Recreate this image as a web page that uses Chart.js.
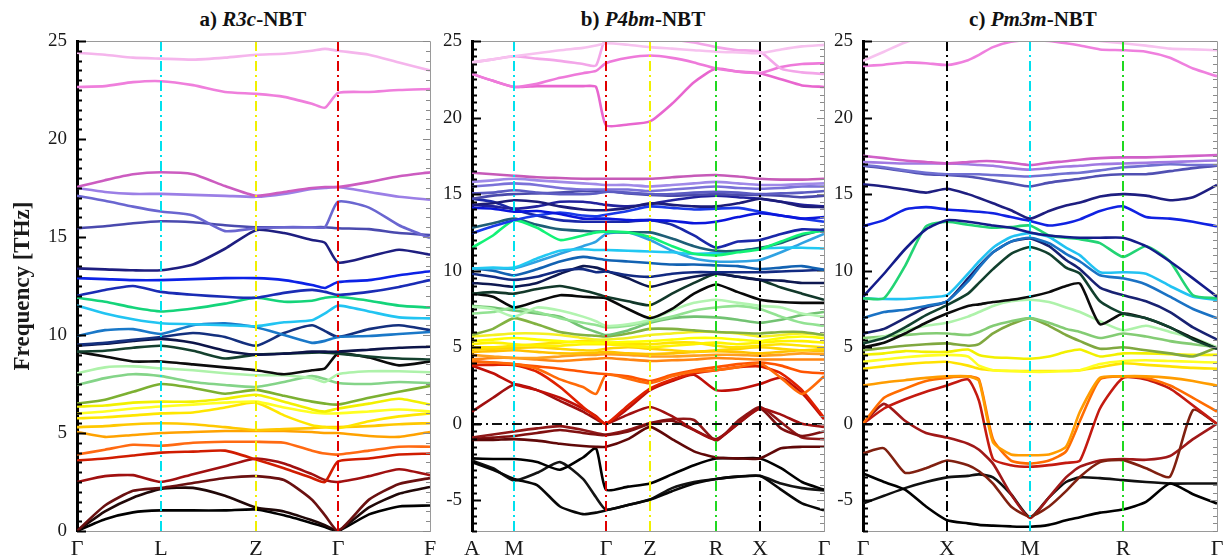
<!DOCTYPE html>
<html>
<head>
<meta charset="utf-8">
<script src="https://cdn.jsdelivr.net/npm/chart.js"></script>
<style>
  body { margin: 0; background: #fff; width: 1232px; height: 560px; position: relative; overflow: hidden; }
  canvas { position: absolute; top: 0; }
  .ttl { position: absolute; top: 7px; line-height: 24px; font: bold 21px 'Liberation Serif', 'Times New Roman', serif;
         transform: translateX(-50%); white-space: nowrap; color: #111; }
  .pre { position: absolute; left: -999px; top: 0; font-family: 'Liberation Serif'; }
</style>
</head>
<body>
<div class="ttl" style="left:253px">a) <i>R3c</i>-NBT</div>
<div class="ttl" style="left:643px">b) <i>P4bm</i>-NBT</div>
<div class="ttl" style="left:1033px">c) <i>Pm3m</i>-NBT</div>
<span class="pre">0123 Γ <b>F</b></span>
<canvas id="panelA" width="450" height="560" style="left:0px"></canvas>
<canvas id="panelB" width="412" height="560" style="left:432px"></canvas>
<canvas id="panelC" width="409" height="560" style="left:823px"></canvas>
<script>
// ---- panel a) R3c ----
const kposA = [0, 84, 179, 261, 353];
const klabelsA = ['Γ', 'L', 'Z', 'Γ', 'F'];
const xsA = [0, 28, 56, 84, 116, 148, 179, 207, 235, 248, 261, 292, 322, 353];
const bandsA = [
  [24.4, 24.3, 24.15, 24.1, 24.05, 24.15, 24.3, 24.35, 24.5, 24.6, 24.5, 24.3, 23.9, 23.5],
  [22.65, 22.7, 22.9, 22.95, 22.75, 22.4, 22.3, 22.15, 21.8, 21.6, 22.35, 22.4, 22.5, 22.55],
  [17.55, 17.9, 18.2, 18.3, 18.2, 17.6, 17.1, 17.3, 17.5, 17.55, 17.55, 17.8, 18.1, 18.3],
  [17.5, 17.3, 17.2, 17.2, 17.15, 17.1, 17.05, 17.2, 17.45, 17.5, 17.55, 17.3, 17.05, 16.9],
  [17.1, 16.85, 16.55, 16.3, 16.1, 15.3, 15.45, 15.5, 15.5, 15.5, 16.8, 16.5, 15.6, 14.95],
  [15.45, 15.55, 15.7, 15.8, 15.75, 15.6, 15.5, 15.5, 15.5, 15.5, 15.45, 15.4, 15.2, 15.1],
  [13.4, 13.35, 13.3, 13.3, 13.6, 14.4, 15.35, 15.2, 14.85, 14.7, 13.7, 14.0, 14.35, 14.1],
  [12.9, 12.85, 12.8, 12.8, 12.85, 12.9, 12.9, 12.8, 12.55, 12.4, 12.7, 12.8, 13.05, 13.25],
  [12.0, 12.3, 12.5, 12.2, 12.05, 11.95, 11.9, 12.15, 12.3, 12.2, 12.05, 12.2, 12.45, 12.8],
  [11.9, 11.7, 11.4, 11.2, 11.35, 11.6, 11.9, 11.7, 11.75, 11.9, 11.95, 11.75, 11.5, 11.4],
  [11.5, 11.1, 10.8, 10.6, 10.55, 10.5, 10.45, 10.65, 10.75, 11.1, 11.5, 11.2, 10.9, 10.85],
  [9.95, 10.25, 10.3, 10.05, 10.5, 10.6, 10.4, 10.0, 9.6, 9.7, 9.9, 9.95, 10.05, 10.15],
  [9.5, 9.6, 9.75, 9.9, 10.1, 9.9, 9.45, 10.1, 10.5, 10.2, 9.9, 10.3, 10.5, 10.25],
  [9.45, 9.55, 9.7, 9.8, 9.6, 9.2, 9.0, 9.05, 9.15, 9.15, 9.15, 9.25, 9.35, 9.4],
  [9.15, 9.2, 9.35, 9.45, 9.2, 8.8, 9.0, 9.05, 9.1, 9.1, 9.05, 8.9, 8.8, 8.75],
  [9.15, 8.9, 8.65, 8.65, 8.5, 8.35, 8.2, 8.0, 8.2, 8.3, 9.05, 8.85, 8.45, 8.65],
  [8.05, 8.35, 8.4, 8.3, 8.2, 8.05, 7.95, 7.95, 7.8, 7.6, 8.0, 8.15, 8.15, 8.1],
  [7.45, 7.8, 8.0, 7.9, 7.6, 7.45, 7.35, 7.6, 7.9, 7.75, 7.55, 7.5, 7.6, 7.55],
  [6.5, 6.7, 7.1, 7.5, 7.3, 7.0, 7.2, 6.9, 6.6, 6.5, 6.45, 6.8, 7.1, 7.4],
  [6.35, 6.4, 6.55, 6.6, 6.6, 6.75, 6.95, 6.6, 6.2, 6.1, 6.25, 6.5, 6.75, 6.45],
  [6.0, 6.1, 6.25, 6.35, 6.45, 6.55, 6.6, 6.3, 6.05, 6.0, 6.0, 6.1, 6.2, 6.1],
  [5.75, 5.8, 5.9, 6.0, 6.05, 6.3, 6.55, 5.9, 5.4, 5.3, 5.25, 5.6, 5.85, 6.0],
  [5.3, 5.35, 5.45, 5.5, 5.45, 5.3, 5.15, 5.2, 5.25, 5.3, 5.3, 5.35, 5.45, 5.5],
  [5.05, 4.8, 4.9, 5.0, 5.05, 5.1, 5.1, 5.1, 5.05, 5.0, 5.0, 4.85, 4.8, 5.05],
  [3.9, 4.15, 4.4, 4.35, 4.5, 4.55, 4.55, 4.5, 4.1, 3.95, 3.9, 4.1, 4.3, 4.3],
  [3.6, 3.7, 3.85, 4.0, 4.05, 4.1, 3.65, 3.2, 2.7, 2.5, 3.55, 3.7, 3.9, 3.95],
  [2.5, 2.8, 2.85, 2.5, 2.9, 3.3, 3.7, 3.45, 2.9, 2.6, 2.5, 2.8, 3.15, 2.85],
  [0, 1.3, 2.05, 2.2, 2.45, 2.7, 2.8, 2.6, 1.6, 0.8, 0, 1.6, 2.4, 2.7],
  [0, 1.0, 1.7, 2.15, 2.2, 1.8, 1.2, 1.0, 0.55, 0.3, 0, 1.2, 1.9, 2.25],
  [0, 0.6, 0.95, 1.05, 1.05, 1.05, 1.1, 0.8, 0.4, 0.2, 0, 0.85, 1.25, 1.3]
];

// ---- panel b) P4bm ----
const kposB = [0, 42, 134, 178, 244, 288, 352];
const klabelsB = ['A', 'M', 'Γ', 'Z', 'R', 'X', 'Γ'];
const xsB = [0, 21, 42, 65, 88, 111, 124, 134, 156, 178, 200, 222, 244, 266, 288, 309, 330, 352];
const bandsB = [
  [23.6, 23.8, 24.0, 24.2, 24.4, 24.55, 24.7, 24.85, 24.75, 24.6, 24.5, 24.4, 24.3, 24.25, 24.2, 24.45, 24.65, 24.75],
  [23.6, 23.8, 24.0, 23.85, 23.7, 23.5, 23.4, 25.2, 25.3, 25.3, 25.1, 24.9, 24.6, 24.4, 24.3, 23.2, 22.95, 22.85],
  [22.85, 22.4, 22.0, 22.2, 22.6, 22.9, 23.05, 23.55, 23.9, 24.05, 23.9, 23.6, 23.2, 23.0, 22.9, 23.3, 23.5, 23.55],
  [22.85, 22.4, 22.0, 22.05, 22.05, 22.05, 22.0, 19.5, 19.55, 19.75, 20.9, 22.3, 23.2, 23.0, 22.9, 22.5, 22.1, 22.0],
  [16.4, 16.3, 16.2, 16.1, 16.05, 16.0, 16.0, 16.0, 16.0, 16.0, 16.1, 16.2, 16.25, 16.15, 16.0, 15.95, 15.95, 16.0],
  [15.8, 15.9, 16.0, 15.9, 15.8, 15.7, 15.65, 15.6, 15.6, 15.5, 15.6, 15.7, 15.8, 15.7, 15.6, 15.6, 15.65, 15.7],
  [15.5, 15.6, 15.7, 15.6, 15.4, 15.3, 15.3, 15.3, 15.3, 15.2, 15.3, 15.4, 15.5, 15.4, 15.35, 15.4, 15.5, 15.5],
  [15.05, 15.1, 15.25, 15.1, 15.0, 15.0, 15.05, 15.15, 15.1, 15.0, 15.0, 15.1, 15.15, 15.1, 15.0, 15.05, 15.1, 15.2],
  [14.7, 14.9, 15.0, 15.05, 15.1, 15.2, 15.2, 15.2, 15.05, 14.95, 14.9, 14.95, 15.0, 14.95, 14.95, 14.9, 14.8, 14.9],
  [14.3, 14.4, 14.6, 14.5, 14.2, 14.0, 13.95, 13.95, 14.1, 14.4, 14.3, 14.2, 14.2, 14.4, 14.7, 14.5, 14.2, 14.15],
  [14.3, 14.2, 14.05, 14.2, 14.5, 14.5, 14.4, 14.3, 14.2, 14.35, 14.6, 14.8, 14.9, 14.8, 14.7, 14.5, 14.3, 14.2],
  [14.1, 14.05, 13.85, 13.9, 13.7, 13.4, 13.4, 13.4, 13.3, 13.3, 13.25, 13.1, 13.2, 13.5, 13.75, 13.6, 13.4, 13.5],
  [12.45, 12.9, 13.3, 13.6, 13.8, 13.6, 13.55, 13.65, 13.9, 14.2, 14.1, 14.0, 14.05, 14.1, 13.85, 13.6, 13.4, 13.2],
  [14.7, 14.5, 14.0, 13.6, 13.3, 13.2, 13.2, 13.2, 13.2, 13.3, 13.0, 12.3, 11.5, 11.9, 12.0, 12.4, 12.7, 12.65],
  [11.5, 12.3, 13.3, 12.8, 12.0, 12.3, 12.5, 12.55, 12.5, 12.2, 11.6, 11.1, 11.0, 11.2, 11.4, 11.9, 12.4, 12.6],
  [12.8, 13.1, 13.4, 13.0, 12.7, 12.6, 12.55, 12.55, 12.5, 12.5, 12.1, 11.6, 11.3, 11.3, 11.5, 11.8, 12.3, 12.7],
  [10.15, 10.2, 10.2, 10.8, 11.3, 11.4, 11.35, 11.35, 11.3, 11.25, 11.2, 11.1, 11.15, 11.3, 11.45, 11.5, 11.5, 11.45],
  [10.15, 10.15, 10.15, 10.6, 11.1, 11.6, 11.9, 12.4, 12.5, 12.0, 11.3, 10.8, 10.6, 10.6, 10.7, 11.2, 11.8, 12.4],
  [10.15, 10.0, 9.7, 10.1, 10.6, 10.9, 10.8, 10.7, 10.6, 10.5, 10.4, 10.4, 10.35, 10.3, 10.1, 10.2, 10.3, 10.05],
  [9.8, 9.6, 9.4, 9.6, 10.0, 10.1, 9.9, 9.95, 9.7, 9.6, 9.8, 9.9, 9.9, 9.9, 9.9, 9.95, 10.0, 10.05],
  [9.2, 9.1, 8.95, 9.2, 9.8, 10.3, 10.2, 10.0, 9.5, 8.95, 9.3, 9.6, 9.8, 9.6, 9.4, 9.35, 9.2, 9.2],
  [8.5, 8.6, 8.5, 8.8, 9.0, 8.7, 8.5, 8.3, 8.0, 7.75, 8.5, 9.2, 9.8, 9.6, 9.4, 8.9, 8.5, 8.1],
  [8.5, 8.3, 7.6, 8.0, 8.4, 8.3, 8.25, 8.2, 7.5, 6.9, 7.5, 8.5, 9.1, 8.6, 8.1, 7.95, 7.9, 7.9],
  [7.65, 7.5, 7.0, 7.6, 7.4, 7.0, 6.7, 6.4, 6.5, 6.8, 7.4, 7.9, 8.1, 7.9, 7.7, 7.6, 7.2, 7.0],
  [7.2, 7.3, 7.6, 7.3, 6.9, 6.6, 6.45, 6.3, 6.4, 6.7, 7.0, 7.4, 7.6, 7.7, 7.5, 7.0, 6.6, 6.4],
  [7.7, 7.6, 7.4, 7.2, 7.0, 6.3, 6.0, 5.8, 6.1, 6.6, 6.9, 7.0, 6.95, 6.8, 6.6, 6.8, 7.1, 7.3],
  [5.8, 6.2, 6.9, 6.5, 6.0, 5.8, 5.75, 5.7, 5.9, 6.2, 6.2, 6.1, 6.0, 5.95, 5.9, 6.0, 6.0, 5.8],
  [5.7, 5.8, 5.9, 5.9, 5.8, 5.6, 5.5, 5.5, 5.6, 5.8, 5.9, 6.0, 6.0, 5.9, 5.7, 5.8, 5.9, 5.8],
  [5.4, 5.5, 5.6, 5.5, 5.4, 5.3, 5.3, 5.3, 5.35, 5.4, 5.5, 5.6, 5.6, 5.5, 5.4, 5.6, 5.7, 5.6],
  [5.2, 5.3, 5.2, 5.1, 5.1, 5.2, 5.2, 5.2, 5.1, 5.0, 5.1, 5.2, 5.3, 5.2, 5.3, 5.4, 5.4, 5.3],
  [5.0, 5.0, 5.1, 5.2, 5.3, 5.4, 5.4, 5.3, 5.2, 5.2, 5.3, 5.3, 5.1, 5.0, 5.1, 5.2, 5.1, 5.0],
  [4.85, 4.9, 4.95, 5.0, 4.9, 4.8, 4.8, 4.9, 5.0, 4.9, 4.8, 4.7, 4.8, 4.9, 5.0, 4.9, 4.8, 4.9],
  [4.7, 4.75, 4.8, 4.7, 4.6, 4.6, 4.65, 4.7, 4.6, 4.55, 4.6, 4.7, 4.75, 4.7, 4.6, 4.7, 4.8, 4.75],
  [4.5, 4.4, 4.3, 4.3, 4.4, 4.5, 4.5, 4.55, 4.5, 4.4, 4.4, 4.45, 4.5, 4.5, 4.45, 4.5, 4.6, 4.55],
  [4.2, 4.3, 4.3, 4.2, 4.1, 4.2, 4.25, 4.3, 4.2, 4.1, 4.15, 4.2, 4.3, 4.25, 4.2, 4.2, 4.2, 4.2],
  [4.05, 4.0, 3.9, 3.6, 2.9, 2.4, 1.95, 3.2, 2.95, 2.65, 3.1, 3.4, 3.5, 3.7, 3.95, 3.0, 1.95, 3.1],
  [4.1, 4.0, 3.9, 3.75, 3.6, 3.4, 3.3, 3.25, 3.1, 2.8, 3.2, 3.5, 3.7, 3.9, 4.0, 3.8, 3.4, 3.3],
  [3.85, 3.85, 3.85, 3.4, 2.4, 1.1, 0.45, 0.0, 1.2, 2.3, 2.9, 3.3, 3.5, 3.7, 3.75, 3.3, 2.2, 0.4],
  [3.8, 3.3, 2.6, 2.2, 1.7, 1.0, 0.5, 0.0, 1.0, 2.2, 2.8, 3.2, 2.2, 2.25, 2.6, 3.0, 2.0, 0.3],
  [0.8, 1.7, 2.55, 2.2, 1.5, 0.8, 0.3, 0.0, 0.6, 1.1, 0.5, -0.4, -1.05, 0.0, 1.0, 0.6, 0.0, -0.2],
  [-1.05, -1.05, -1.0, -1.1, -1.3, -1.45, -1.5, -1.5, -1.0, -0.2, -1.0, -1.8, -2.2, -2.26, -2.26, -1.6, -1.5, -1.5],
  [-1.0, -0.9, -0.8, -0.6, -0.4, -0.6, -0.7, -0.75, -0.5, 0.0, 0.2, -0.4, -1.0, 0.0, 1.0, -0.3, -0.8, -0.5],
  [-0.9, -0.7, -0.5, -0.3, -0.15, -0.4, -0.6, -0.7, -0.4, 0.05, 0.3, 0.25, -1.1, 0.2, 1.1, 0.1, -0.9, -1.0],
  [-2.26, -2.3, -2.3, -2.5, -3.0, -2.2, -1.6, -4.3, -4.1, -3.9, -3.3, -2.7, -2.26, -2.26, -2.26, -2.9, -3.8, -4.3],
  [-2.5, -3.0, -3.6, -4.0, -5.4, -5.9, -5.8, -5.65, -5.3, -4.95, -4.4, -3.9, -3.6, -3.45, -3.4, -4.3, -5.2, -5.65],
  [-2.4, -2.9, -3.7, -3.2, -2.5, -3.6, -4.8, -5.6, -5.3, -4.95, -4.2, -3.8, -3.6, -3.45, -3.4, -3.9, -4.2, -4.35]
];

// ---- panel c) Pm3m ----
const kposC = [0, 84, 167, 260, 354];
const klabelsC = ['Γ', 'X', 'M', 'R', 'Γ'];
const xsC = [0, 21, 42, 63, 84, 105, 116, 130, 148, 167, 186, 203, 217, 237, 260, 283, 307, 330, 354];
const bandsC = [
  [23.7, 24.3, 24.9, 25.3, 25.5, 25.6, 25.6, 25.6, 25.5, 25.4, 25.3, 25.2, 25.1, 25.0, 24.85, 24.7, 24.5, 24.45, 24.4],
  [23.37, 23.45, 23.6, 23.55, 23.43, 23.75, 24.1, 24.6, 24.95, 25.05, 25.0, 24.85, 24.7, 24.45, 24.4, 24.3, 23.9, 23.2, 22.7],
  [17.5, 17.35, 17.2, 17.1, 17.0, 17.1, 17.15, 17.15, 17.05, 16.9, 17.05, 17.15, 17.25, 17.35, 17.4, 17.4, 17.45, 17.5, 17.55],
  [17.1, 17.05, 17.0, 17.0, 17.0, 16.95, 16.9, 16.85, 16.7, 16.6, 16.7, 16.8, 16.85, 16.95, 17.0, 17.05, 17.1, 17.15, 17.2],
  [16.9, 16.75, 16.55, 16.4, 16.3, 16.3, 16.3, 16.25, 16.2, 16.15, 16.25, 16.35, 16.4, 16.55, 16.75, 16.85, 16.95, 16.9, 16.9],
  [16.85, 16.7, 16.5, 16.3, 16.25, 16.15, 16.05, 15.9, 15.7, 15.5, 15.75, 15.9, 16.0, 16.2, 16.3, 16.3, 16.5, 16.7, 16.85],
  [15.65, 15.5, 15.3, 15.1, 15.35, 15.0, 14.75, 14.4, 13.95, 13.4, 13.9, 14.25, 14.45, 14.85, 15.0, 14.9, 14.6, 14.8, 15.6],
  [12.9, 13.3, 14.0, 14.15, 14.0, 13.9, 13.85, 13.75, 13.5, 13.25, 12.95, 13.1, 13.35, 13.9, 14.2, 13.5, 13.4, 13.2, 12.9],
  [8.3, 9.8, 11.4, 12.7, 13.3, 13.2, 13.1, 12.95, 12.8, 12.5, 12.3, 12.2, 12.15, 12.15, 12.15, 11.6, 10.6, 9.5, 8.3],
  [8.2, 8.2, 10.3, 12.9, 13.2, 13.0, 12.9, 12.8, 12.85, 12.95, 12.3, 12.15, 12.05, 11.8, 10.9, 11.6, 10.6, 8.4, 8.2],
  [8.2, 8.15, 8.15, 8.25, 8.4, 9.8, 10.6, 11.5, 12.2, 12.45, 12.2, 11.5, 11.0, 9.9, 9.9, 9.8, 9.0, 8.3, 8.1],
  [6.9, 7.3, 7.45, 7.7, 8.0, 9.3, 10.2, 11.2, 11.9, 12.15, 11.8, 11.1, 10.6, 9.7, 9.5, 9.1, 8.3, 7.5, 6.9],
  [5.9, 6.2, 6.9, 7.6, 8.0, 9.5, 10.3, 11.2, 11.9, 12.1, 11.6, 10.7, 10.1, 8.9, 8.4, 8.0, 7.3, 6.3, 5.5],
  [5.25, 5.6, 6.3, 7.1, 7.75, 8.5, 9.2, 10.1, 11.1, 11.55, 11.1, 10.2, 9.8, 8.0, 7.2, 6.9, 6.3, 5.5, 4.9],
  [5.0, 5.3, 5.9, 6.6, 7.2, 7.7, 7.8, 7.95, 8.1, 8.3, 8.6, 9.0, 9.15, 6.5, 7.2, 6.9, 6.3, 5.6, 4.9],
  [5.3, 5.7, 6.1, 6.4, 6.6, 7.0, 7.3, 7.7, 8.0, 8.1, 7.95, 7.6, 7.3, 6.7, 6.1, 6.4, 6.0, 5.6, 5.0],
  [5.6, 5.7, 5.8, 5.9, 5.9, 5.8, 6.0, 6.4, 6.7, 6.9, 6.6, 6.2, 6.0, 5.6, 5.9, 5.7, 5.4, 5.2, 5.0],
  [4.8, 4.95, 5.1, 5.2, 5.25, 5.1, 5.2, 5.9, 6.5, 6.9, 6.4, 5.8, 5.4, 4.9, 5.0, 4.8, 4.6, 4.4, 5.0],
  [4.5, 4.6, 4.75, 4.7, 4.7, 4.85, 4.5, 4.35, 4.3, 4.25, 4.4, 4.7, 4.85, 4.4, 4.6, 4.6, 4.55, 4.5, 4.5],
  [4.05, 4.2, 4.35, 4.45, 4.5, 4.4, 3.8, 3.5, 3.45, 3.4, 3.4, 3.45, 3.5, 3.9, 4.1, 4.15, 4.1, 4.05, 4.0],
  [3.6, 3.75, 3.9, 4.0, 4.05, 3.8, 3.6, 3.5, 3.45, 3.45, 3.45, 3.45, 3.5, 3.7, 3.95, 3.85, 3.75, 3.65, 3.6],
  [2.5, 2.7, 2.85, 3.0, 3.1, 3.1, 2.8, -1.2, -2.0, -2.05, -2.0, -1.5, 0.8, 3.0, 3.1, 3.1, 3.0, 2.8, 2.5],
  [0, 1.7, 2.3, 2.8, 3.0, 3.1, 2.9, -1.0, -2.4, -2.6, -2.4, -1.8, 0.2, 2.9, 3.1, 3.0, 2.5, 1.7, 0.8],
  [0, 1.0, 1.6, 2.1, 2.5, 2.9, 1.5, -2.3, -2.7, -2.8, -2.7, -2.55, -2.4, 1.0, 3.0, 2.9, 2.3, 1.2, 0],
  [-1.93, -1.6, -3.2, -2.9, -2.4, -2.7, -3.1, -3.9, -5.4, -6.05, -5.4, -4.4, -3.45, -2.5, -2.37, -2.9, -3.45, 0.9, 0],
  [0, 1.3, 0.2, -0.6, -0.9, -1.3, -1.7, -2.6, -4.6, -6.15, -4.8, -3.5, -2.8, -2.4, -2.3, -2.35, -2.1, -1.0, 0],
  [-3.24, -3.8, -4.3, -5.4, -6.3, -6.5, -6.6, -6.65, -6.7, -6.72, -6.6, -6.3, -6.1, -5.8, -5.6, -5.1, -3.9, -4.6, -5.2],
  [-5.2, -4.7, -4.2, -3.8, -3.5, -3.4, -3.3, -3.5, -4.6, -6.1, -4.8, -3.8, -3.5, -3.55, -3.68, -3.8, -3.9, -3.9, -3.9]
];

// colours (styles kept apart from the values)
const coloursA = ['#f5b5ec', '#ef7fdc', '#cc5cc0', '#9b7fe6', '#6a66d0', '#4a4aae', '#1e1e80', '#0c22e6', '#1a2cb4',
  '#14d47a', '#22c4f2', '#1a78c8', '#14307e', '#0c1448', '#14402e', '#0c0c0c', '#aef2aa', '#84d488', '#7cb032',
  '#f2f000', '#ffff22', '#ffe600', '#ffc800', '#ffa200', '#ff6a12', '#d01c00', '#a01010', '#6a1010', '#200808', '#000000'];
const coloursB = ['#f7c2ef', '#f3a6e9', '#ee7ada', '#e866cf', '#c65ab8', '#a08ae8', '#7a72d8', '#5c5cc2', '#4a4aaa',
  '#1c1c78', '#22229c', '#0a16dc', '#1a3ae8', '#1a28a8', '#12f276', '#1e5e76', '#22c8f2', '#30a2e2', '#1262b2',
  '#122a82', '#0e1850', '#12382a', '#080808', '#b2f4b0', '#92e292', '#72c272', '#82b242', '#f4f022', '#ffff00',
  '#fff200', '#ffe400', '#ffd400', '#ffc000', '#ffa020', '#ff8412', '#ff6a08', '#ff5400', '#e02000', '#c01008',
  '#a01010', '#600808', '#801010', '#901818', '#000000', '#080808', '#141414'];
const coloursC = ['#f7c2ef', '#ef80de', '#d060c8', '#a07ae2', '#7070d2', '#5050b2', '#1e1e80', '#1022e2', '#141c8a',
  '#22d474', '#22c2f2', '#1a72c4', '#182272', '#12402e', '#0c0c0c', '#aef2aa', '#84cc74', '#80a840', '#f2f000',
  '#ffff22', '#ffe200', '#ff9c00', '#ff6c00', '#c41a10', '#802010', '#a01818', '#000000', '#101010'];
const symColoursA = [null, '#00e0ee', '#f0f000', '#e00000', null];
const symColoursB = [null, '#00e0ee', '#e00000', '#f0f000', '#20d820', '#000000', null];
const symColoursC = [null, '#000000', '#00e0ee', '#20d820', null];

const FONT = "'Liberation Serif'";

// frame, inward minor ticks and dash-dot symmetry lines
const bandFrame = {
  id: 'bandFrame',
  afterDatasetsDraw(chart, args, opts) {
    const { ctx, chartArea: a, scales: { x, y } } = chart;
    ctx.save();
    ctx.lineWidth = 2;
    ctx.setLineDash([10, 4, 2, 4]);
    opts.kpos.forEach((k, i) => {
      const c = opts.symColours[i];
      if (!c) return;
      const px = Math.round(x.getPixelForValue(k));
      ctx.strokeStyle = c;
      ctx.beginPath(); ctx.moveTo(px, a.top); ctx.lineTo(px, a.bottom); ctx.stroke();
    });
    if (opts.zeroLine) {
      const py = Math.round(y.getPixelForValue(0));
      ctx.strokeStyle = '#111';
      ctx.beginPath(); ctx.moveTo(a.left, py); ctx.lineTo(a.right, py); ctx.stroke();
    }
    ctx.setLineDash([]);
    ctx.strokeStyle = '#9a9a9a';
    ctx.lineWidth = 1;
    ctx.beginPath();
    ctx.moveTo(a.left, a.top + 0.5); ctx.lineTo(a.right + 0.5, a.top + 0.5); ctx.lineTo(a.right + 0.5, a.bottom);
    ctx.stroke();
    for (let v = y.min; v <= y.max + 1e-6; v += 0.5) {
      const py = Math.round(y.getPixelForValue(v)) + 0.5;
      const major = Math.abs(v % 5) < 1e-6;
      ctx.strokeStyle = '#000'; ctx.lineWidth = 2;
      ctx.beginPath(); ctx.moveTo(a.left, py); ctx.lineTo(a.left + (major ? 9 : 5), py); ctx.stroke();
      ctx.strokeStyle = '#8a8a8a'; ctx.lineWidth = 1;
      ctx.beginPath(); ctx.moveTo(a.right, py); ctx.lineTo(a.right - (major ? 7 : 4), py); ctx.stroke();
    }
    ctx.restore();
  }
};

function buildPanel(id, xs, bands, colours, kpos, klabels, symColours, yMin, yWidth, padRight, showTitle, zeroLine) {
  const datasets = bands.map((vals, i) => ({
    data: vals.map((v, j) => ({ x: xs[j], y: v })),
    borderColor: colours[i],
    borderWidth: 2.6,
    pointRadius: 0,
    tension: 0.2,
    fill: false
  }));
  return new Chart(document.getElementById(id), {
    type: 'line',
    data: { datasets },
    options: {
      responsive: false,
      animation: false,
      events: [],
      layout: { padding: { top: 41, right: padRight, left: 0, bottom: 0 } },
      plugins: {
        legend: { display: false },
        tooltip: { enabled: false },
        bandFrame: { kpos, symColours, zeroLine }
      },
      scales: {
        x: {
          type: 'linear',
          min: 0,
          max: kpos[kpos.length - 1],
          afterBuildTicks: s => { s.ticks = kpos.map(v => ({ value: v })); },
          afterFit: s => { s.height = 29; },
          ticks: { autoSkip: false, maxRotation: 0, padding: 5, color: '#1a1a1a',
                   font: { family: FONT, size: 22 }, callback: (v, i) => klabels[i] },
          grid: { display: false, drawTicks: false },
          border: { display: true, color: '#9a9a9a', width: 1 }
        },
        y: {
          min: yMin,
          max: 25,
          afterFit: s => { s.width = yWidth; },
          ticks: { stepSize: 5, includeBounds: false, padding: 10, color: '#1a1a1a', font: { family: FONT, size: 19 } },
          grid: { display: false, drawTicks: false },
          border: { display: true, color: '#000', width: 3 },
          title: { display: showTitle, text: 'Frequency [THz]', color: '#1a1a1a',
                   font: { family: FONT, size: 23, weight: 'bold' }, padding: { top: 9, bottom: 0 } }
        }
      }
    },
    plugins: [bandFrame]
  });
}

function drawAll() {
  buildPanel('panelA', xsA, bandsA, coloursA, kposA, klabelsA, symColoursA, 0, 77, 20, true, false);
  buildPanel('panelB', xsB, bandsB, coloursB, kposB, klabelsB, symColoursB, -7, 40, 20, false, true);
  buildPanel('panelC', xsC, bandsC, coloursC, kposC, klabelsC, symColoursC, -7, 40, 15, false, true);
}

Promise.all([
  document.fonts.load("19px 'Liberation Serif'"),
  document.fonts.load("bold 23px 'Liberation Serif'")
]).then(drawAll, drawAll);
</script>
</body>
</html>
